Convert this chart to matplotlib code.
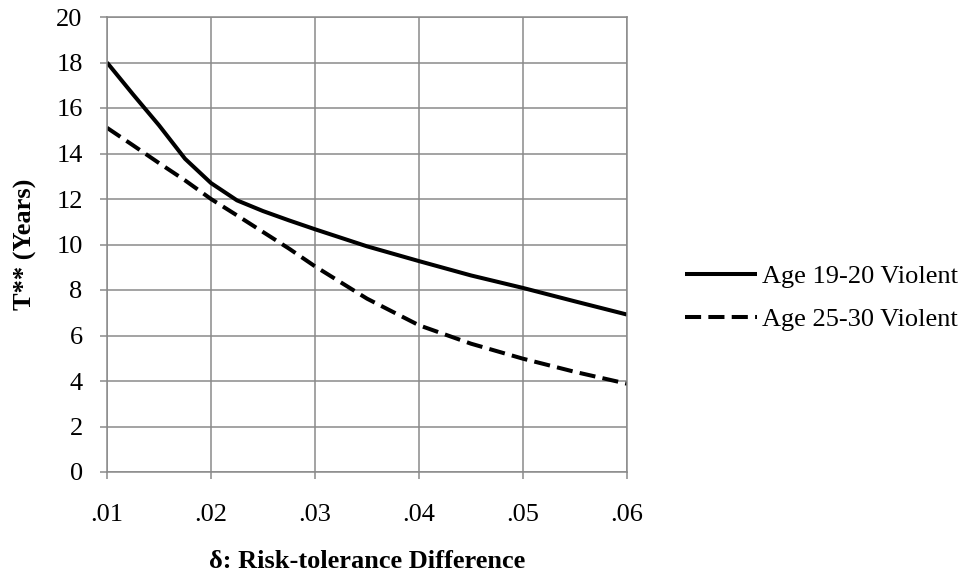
import numpy as np
import matplotlib
matplotlib.use('Agg')
import matplotlib.pyplot as plt

plt.rcParams.update({
    'font.family': 'Liberation Serif',
    'font.size': 19,
})

# values
delta = [0.01, 0.0125, 0.015, 0.0175, 0.02, 0.0225, 0.025, 0.0275,
         0.03, 0.035, 0.04, 0.045, 0.05, 0.055, 0.06]
age_19_20 = [18.0, 16.6, 15.24, 13.77, 12.7, 11.94, 11.47, 11.06,
             10.67, 9.92, 9.27, 8.64, 8.09, 7.5, 6.92]
age_25_30 = [15.13, 14.36, 13.58, 12.82, 12.0, 11.28, 10.55, 9.82,
             9.04, 7.62, 6.45, 5.64, 4.98, 4.40, 3.88]

xticks = [0.01, 0.02, 0.03, 0.04, 0.05, 0.06]
xticklabels = ['.01', '.02', '.03', '.04', '.05', '.06']
yticks = np.arange(0, 21, 2)

grey = '#8a8a8a'

fig = plt.figure(figsize=(9.66, 5.77), dpi=100)
ax = fig.add_axes([107/966, 1 - 472/577, 520/966, 455/577])

ax.plot(delta, age_19_20, color='k', lw=2.9, label='Age 19-20 Violent',
        solid_capstyle='butt', solid_joinstyle='round')
ax.plot(delta, age_25_30, color='k', lw=2.9, linestyle=(0, (4.0, 1.8)),
        label='Age 25-30 Violent', dash_capstyle='butt')

ax.set_xlim(0.01, 0.06)
ax.set_ylim(0, 20)
ax.set_xticks(xticks)
ax.set_xticklabels(xticklabels)
ax.set_yticks(yticks)

ax.grid(True, color=grey, lw=1.1)
ax.set_axisbelow(True)
for s in ax.spines.values():
    s.set_color(grey)
    s.set_linewidth(1.1)
ax.tick_params(axis='both', direction='out', length=5, width=1.1, color=grey)
ax.tick_params(axis='x', pad=18)
ax.tick_params(axis='y', pad=12.5)

ax.set_xlabel('δ: Risk-tolerance Difference', fontweight='bold')
ax.set_ylabel('T** (Years)', fontweight='bold')
ax.xaxis.set_label_coords(0.5, -0.172)
ax.yaxis.set_label_coords(-0.135, 0.5)

fig.legend(loc='center left', bbox_to_anchor=(685/966, 1 - 298/577),
           frameon=False, borderpad=0, borderaxespad=0,
           handlelength=2.73, handletextpad=0.19, labelspacing=0.72)

fig.savefig('out.png', dpi=100)
